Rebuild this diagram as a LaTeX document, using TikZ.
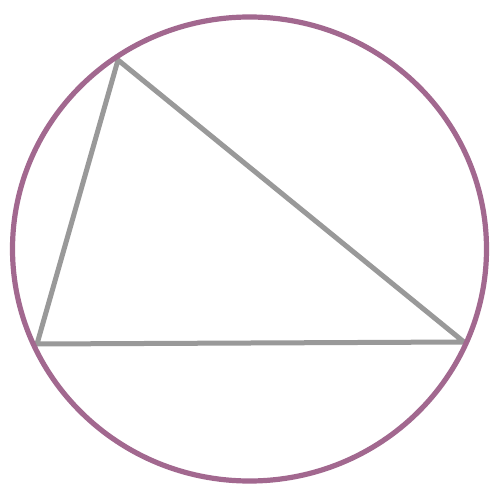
\documentclass[tikz,border=0pt]{standalone}
\definecolor{rim}{HTML}{A2688F}
\definecolor{edge}{HTML}{999999}
\tikzset{rimline/.style={draw=rim,line width=5.2pt},
  edgeline/.style={draw=edge,line width=5pt,line join=round,line cap=round}}
\begin{document}
\begin{tikzpicture}[x=1pt,y=-1pt]
\useasboundingbox (0,0) rectangle (500,494);
\fill[white] (0,0) rectangle (500,494);
\coordinate (A) at (118,60);
\coordinate (B) at (37,344);
\coordinate (C) at (464,342);
\draw[edgeline] (A) -- (B) -- (C) -- cycle;
\draw[rimline] (249.5,249) ellipse [x radius=237, y radius=232];
\end{tikzpicture}
\end{document}
